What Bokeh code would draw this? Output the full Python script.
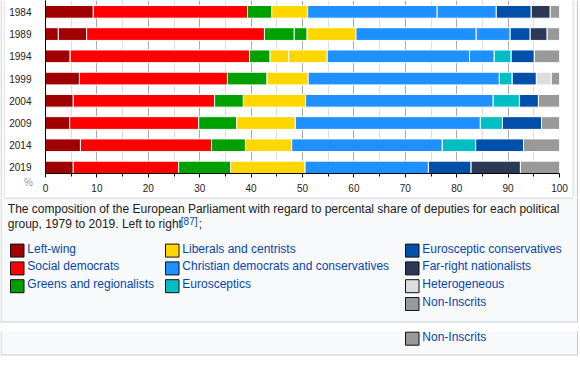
import numpy as np
from bokeh.plotting import figure
from bokeh.layouts import column, row
from bokeh.models import Range1d, FixedTicker, ColumnDataSource
from bokeh.core.properties import value
from bokeh.embed import file_html
from bokeh.resources import INLINE

# ---------------- data ----------------
years = [1984, 1989, 1994, 1999, 2004, 2009, 2014, 2019]

family_names = [
    "Left-wing", "Social democrats", "Greens and regionalists",
    "Liberals and centrists", "Christian democrats and conservatives", "Eurosceptics",
    "Eurosceptic conservatives", "Far-right nationalists", "Heterogeneous", "Non-Inscrits",
]
family_colors = [
    "#a00000", "#ff0000", "#00a000", "#ffd700", "#1e90ff",
    "#00bfc4", "#0050aa", "#2b3856", "#dddddd", "#999999",
]

# share of seats (%) per parliamentary group, left to right, and the family of each group
share_1984 = [9.3, 30.0, 4.7, 7.0, 25.2, 11.5, 6.8, 3.7, 1.8]
family_1984 = [0, 1, 2, 3, 4, 4, 6, 7, 9]
share_1989 = [2.5, 5.5, 34.6, 5.8, 2.5, 9.5, 23.4, 6.6, 3.9, 3.3, 2.4]
family_1989 = [0, 0, 1, 2, 2, 3, 4, 4, 6, 7, 9]
share_1994 = [4.8, 34.9, 4.0, 3.6, 7.5, 27.7, 4.8, 3.3, 4.5, 4.9]
family_1994 = [0, 1, 2, 3, 3, 4, 4, 5, 6, 9]
share_1999 = [6.6, 28.8, 7.7, 8.0, 37.2, 2.5, 4.7, 2.9, 1.6]
family_1999 = [0, 1, 2, 3, 4, 5, 6, 8, 9]
share_2004 = [5.4, 27.5, 5.6, 12.1, 36.5, 5.1, 3.7, 4.1]
family_2004 = [0, 1, 2, 3, 4, 5, 6, 9]
share_2009 = [4.7, 25.1, 7.4, 11.4, 36.0, 4.3, 7.6, 3.5]
family_2009 = [0, 1, 2, 3, 4, 5, 6, 9]
share_2014 = [6.8, 25.5, 6.6, 9.0, 29.3, 6.5, 9.3, 7.0]
family_2014 = [0, 1, 2, 3, 4, 5, 6, 9]
share_2019 = [5.4, 20.5, 10.1, 14.5, 24.0, 8.3, 9.6, 7.6]
family_2019 = [0, 1, 2, 3, 4, 6, 7, 9]

shares = [share_1984, share_1989, share_1994, share_1999,
          share_2004, share_2009, share_2014, share_2019]
families = [family_1984, family_1989, family_1994, family_1999,
            family_2004, family_2009, family_2014, family_2019]

x_ticks = list(range(0, 101, 10))
x_minor = list(range(5, 100, 10))
unit_label = "%"

caption_1 = ("The composition of the European Parliament with regard to percental "
             "share of deputies for each political")
caption_2 = "group, 1979 to 2019. Left to right"
caption_ref = "[87]"

FONT = "Liberation Sans"
BOX = "#f8f9fa"
EDGE = "#c8ccd1"
TEXT_DY = -4.5   # svg text baseline correction


def blank(width, height, xr, yr):
    f = figure(width=width, height=height, output_backend="svg", toolbar_location=None,
               x_range=Range1d(*xr), y_range=Range1d(*yr),
               min_border_left=0, min_border_right=0, min_border_top=0,
               min_border_bottom=0, x_axis_location=None, y_axis_location=None)
    f.outline_line_color = None
    f.grid.visible = False
    f.background_fill_color = "white"
    f.border_fill_color = "white"
    f.frame_align = False
    return f


# ---------------- chart ----------------
ys, lefts, rights, cols = [], [], [], []
for yr, sh, fam in zip(years, shares, families):
    sh = np.array(sh, dtype=float)
    sh = sh / sh.sum() * 100.0
    r = np.cumsum(sh)
    l = r - sh
    ys += [yr] * len(sh)
    lefts += list(l)
    rights += list(r)
    cols += [family_colors[f] for f in fam]
src = ColumnDataSource(dict(y=ys, left=lefts, right=rights, color=cols))

pa = figure(width=567, height=197, output_backend="svg", toolbar_location=None,
            x_range=Range1d(0, 100), y_range=Range1d(2020.35, 1981.45),
            min_border_left=40, min_border_right=13, min_border_top=0,
            min_border_bottom=24)
pa.frame_align = False
pa.outline_line_color = None
pa.background_fill_color = "white"
pa.border_fill_color = None

pa.hbar(y="y", left="left", right="right", height=2.86, fill_color="color",
        line_color="white", line_width=1, source=src)

pa.xaxis.ticker = FixedTicker(ticks=x_ticks, minor_ticks=x_minor)
pa.yaxis.ticker = FixedTicker(ticks=years)
pa.xgrid.grid_line_color = "#aaaaaa"
pa.xgrid.minor_grid_line_color = "#dddddd"
pa.ygrid.grid_line_color = None

for ax in (pa.xaxis, pa.yaxis):
    ax.axis_line_color = "black"
    ax.axis_line_width = 1
    ax.major_label_text_font = FONT
    ax.major_label_text_font_size = "10px"
    ax.major_label_text_color = "#222222"

pa.xaxis.major_tick_line_color = "black"
pa.xaxis.minor_tick_line_color = "black"
pa.xaxis.major_tick_in = 0
pa.xaxis.major_tick_out = 4
pa.xaxis.minor_tick_in = 0
pa.xaxis.minor_tick_out = 3
pa.xaxis.major_label_standoff = 6

pa.yaxis.major_tick_line_color = None
pa.yaxis.minor_tick_line_color = None
pa.yaxis.major_label_standoff = 8

# "%" unit label, on a small canvas lying under the chart's transparent border
pct = blank(40, 197, (5, 45), (197, 0))
pct.text(x=[28], y=[186.5 + TEXT_DY], text=[unit_label], text_font=value(FONT),
         text_font_size="10px", text_color="#999999", text_align="center",
         text_baseline="alphabetic")
pct.margin = (0, -40, 0, 0)

# side strips of the figure frame
ls = blank(5, 197, (0, 5), (197, 0))
ls.quad(left=[0.5], right=[4], top=[0], bottom=[197], fill_color=BOX, line_color=None)
ls.segment(x0=[0.5, 4.5], x1=[0.5, 4.5], y0=[0, 0], y1=[197, 197],
           line_color=EDGE, line_width=1)

rs = blank(8, 197, (572, 580), (197, 0))
rs.quad(left=[573], right=[577], top=[0], bottom=[197], fill_color=BOX, line_color=None)
rs.segment(x0=[572.5, 577], x1=[572.5, 577], y0=[0, 0], y1=[197, 197],
           line_color=EDGE, line_width=1)

# ---------------- caption / legend ----------------
pb = blank(580, 167, (0, 580), (364, 197))

pb.quad(left=[0.5, 0.5], right=[577, 577], top=[197, 331], bottom=[321.5, 354.5],
        fill_color=BOX, line_color=None)
pb.segment(x0=[4, 0, 0, 0.5, 577, 0.5, 577],
           x1=[572.5, 577.5, 577.5, 0.5, 577, 0.5, 577],
           y0=[197.5, 321.5, 354.5, 197, 197, 331, 331],
           y1=[197.5, 321.5, 354.5, 321.5, 321.5, 354.5, 354.5],
           line_color=EDGE, line_width=1)

# caption
pb.text(x=[7.3, 7.3], y=[213.3 + TEXT_DY, 228.3 + TEXT_DY], text=[caption_1, caption_2],
        text_font=value(FONT), text_font_size="12px", text_color="#202122",
        text_baseline="alphabetic", text_align="left")
pb.text(x=[180.3], y=[225.3 + TEXT_DY], text=[caption_ref], text_font=value(FONT),
        text_font_size="10px", text_color="#0645ad", text_baseline="alphabetic")
pb.text(x=[198.3], y=[228.3 + TEXT_DY], text=[";"], text_font=value(FONT),
        text_font_size="12px", text_color="#202122", text_baseline="alphabetic")

# legend
legend_col = [0, 0, 0, 1, 1, 1, 2, 2, 2, 2]
legend_row = [0, 1, 2, 0, 1, 2, 0, 1, 2, 3]
col_x = [10, 165, 405]
row_base = [252.6, 270.4, 288.2, 306.0]

sw_l, sw_r, sw_t, sw_b, sw_c, tx, ty, tt = [], [], [], [], [], [], [], []
for i, name in enumerate(family_names):
    x0 = col_x[legend_col[i]]
    b = row_base[legend_row[i]]
    sw_l.append(x0); sw_r.append(x0 + 13.5)
    sw_t.append(b - 9); sw_b.append(b + 4)
    sw_c.append(family_colors[i])
    tx.append(x0 + 16.8); ty.append(b + TEXT_DY); tt.append(name)
# repeated Non-Inscrits entry in the lower box
sw_l.append(col_x[2]); sw_r.append(col_x[2] + 13.5)
sw_t.append(340.7 - 9); sw_b.append(340.7 + 4)
sw_c.append(family_colors[9])
tx.append(col_x[2] + 16.8); ty.append(340.7 + TEXT_DY); tt.append(family_names[9])

pb.quad(left=sw_l, right=sw_r, top=sw_t, bottom=sw_b, fill_color=sw_c,
        line_color="#111111", line_width=1)
pb.text(x=tx, y=ty, text=tt, text_font=value(FONT), text_font_size="12px",
        text_color="#0645ad", text_baseline="alphabetic", text_align="left")

layout = column(row(ls, pct, pa, rs, spacing=0), pb, spacing=0)
open("out.html", "w").write(file_html(layout, INLINE))
